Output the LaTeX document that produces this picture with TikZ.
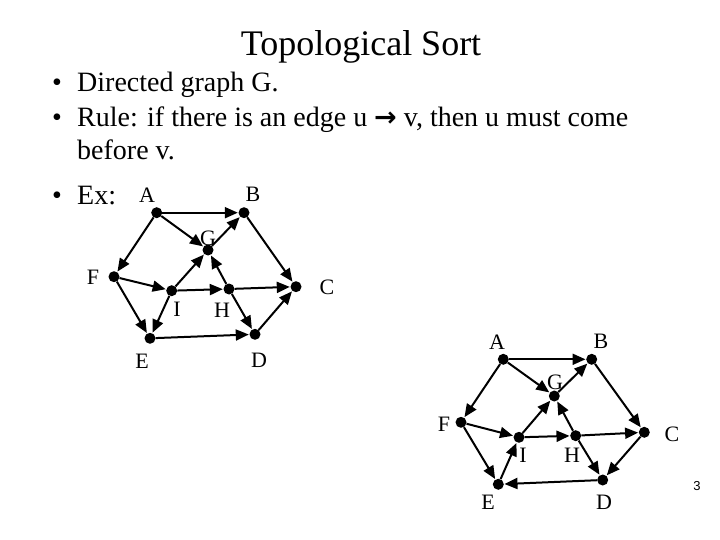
\documentclass[tikz,border=0pt]{standalone}
\usepackage{fontspec}
\setmainfont{Liberation Serif}
\newfontfamily\arrowfont{DejaVu Sans}
\newfontfamily\numfont{Liberation Sans}
\usetikzlibrary{arrows.meta}
\begin{document}
\begin{tikzpicture}[x=1pt,y=-1pt,
  dot/.style={circle,fill=black,inner sep=0pt,minimum size=11pt},
  lbl/.style={inner sep=0pt,font=\fontsize{22}{25}\selectfont},
  body/.style={inner sep=0pt,anchor=base west,font=\fontsize{28}{32}\selectfont},
  bul/.style={inner sep=0pt,anchor=base,font=\fontsize{28}{32}\selectfont},
  edge/.style={line width=2pt,-{Triangle[length=13pt,width=11pt]},shorten >=0.5pt}]
\path[use as bounding box] (0,0) rectangle (720,540);
% title and text
\node[inner sep=0pt,anchor=base,font=\fontsize{36}{40}\selectfont] (title) at (361,56) {Topological Sort};
\node[bul] (b1) at (57,92) {•};
\node[body] (t1) at (77,92) {Directed graph G.};
\node[bul] (b2) at (57,127) {•};
\node[body] (t2) at (77,127) {Rule: if there is an edge u {\arrowfont\bfseries\fontsize{27}{30}\selectfont →} v, then u must come};
\node[body] (t3) at (77,160) {before v.};
\node[bul] (b3) at (57,205) {•};
\node[body] (t4) at (77,205) {Ex:};
% first graph
\node[dot] (A) at (156.7,212.7) {};
\node[dot] (B) at (244,212.7) {};
\node[dot] (G) at (208,250) {};
\node[dot] (F) at (114,276.7) {};
\node[dot] (I) at (171.7,290.7) {};
\node[dot] (H) at (229,289) {};
\node[dot] (C) at (296,286.7) {};
\node[dot] (E) at (150,338.3) {};
\node[dot] (D) at (255,334.3) {};
\node[lbl] (lA) at (147,195) {A};
\node[lbl] (lB) at (253,194) {B};
\node[lbl] (lG) at (208,238) {G};
\node[lbl] (lF) at (93,277) {F};
\node[lbl] (lI) at (177,309) {I};
\node[lbl] (lH) at (222,310) {H};
\node[lbl] (lC) at (327,287) {C};
\node[lbl] (lE) at (142,361) {E};
\node[lbl] (lD) at (259,360) {D};
\draw[edge] (A) -- (B);
\draw[edge] (A) -- (G);
\draw[edge] (A) -- (F);
\draw[edge] (G) -- (B);
\draw[edge] (B) -- (C);
\draw[edge] (F) -- (I);
\draw[edge] (F) -- (E);
\draw[edge] (I) -- (G);
\draw[edge] (I) -- (H);
\draw[edge] (I) -- (E);
\draw[edge] (H) -- (G);
\draw[edge] (H) -- (C);
\draw[edge] (H) -- (D);
\draw[edge] (E) -- (D);
\draw[edge] (D) -- (C);
% second graph
\node[dot] (A2) at (503.3,359.3) {};
\node[dot] (B2) at (591.7,359.3) {};
\node[dot] (G2) at (554.3,396) {};
\node[dot] (F2) at (461,422.3) {};
\node[dot] (I2) at (519,437.3) {};
\node[dot] (H2) at (575.7,435.7) {};
\node[dot] (C2) at (644.3,432.3) {};
\node[dot] (E2) at (498.3,484.3) {};
\node[dot] (D2) at (602.7,480) {};
\node[lbl] (lA2) at (497,342) {A};
\node[lbl] (lB2) at (601,341) {B};
\node[lbl] (lG2) at (555,382) {G};
\node[lbl] (lF2) at (444,424) {F};
\node[lbl] (lI2) at (523,455) {I};
\node[lbl] (lH2) at (572,455) {H};
\node[lbl] (lC2) at (672,434) {C};
\node[lbl] (lE2) at (488,502) {E};
\node[lbl] (lD2) at (604,502) {D};
\draw[edge] (A2) -- (B2);
\draw[edge] (A2) -- (G2);
\draw[edge] (A2) -- (F2);
\draw[edge] (G2) -- (B2);
\draw[edge] (B2) -- (C2);
\draw[edge] (F2) -- (I2);
\draw[edge] (F2) -- (E2);
\draw[edge] (I2) -- (G2);
\draw[edge] (I2) -- (H2);
\draw[edge] (E2) -- (I2);
\draw[edge] (H2) -- (G2);
\draw[edge] (H2) -- (C2);
\draw[edge] (H2) -- (D2);
\draw[edge] (C2) -- (D2);
\draw[edge] (D2) -- (E2);
\node[inner sep=0pt,font=\numfont\fontsize{13}{15}\selectfont] (pg) at (697,486) {3};
\end{tikzpicture}
\end{document}
